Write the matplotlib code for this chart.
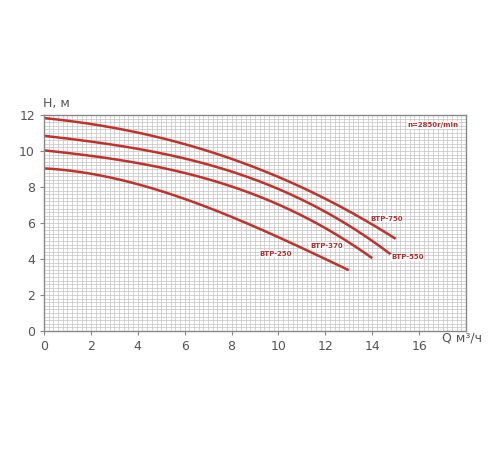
import matplotlib
matplotlib.use("Agg")
import matplotlib.pyplot as plt
import numpy as np
from matplotlib.ticker import MultipleLocator

q750 = [0, 2, 4, 6, 8, 10, 12, 14, 15]
h750 = [11.8, 11.55, 11.05, 10.35, 9.55, 8.5, 7.4, 6.0, 5.05]
q550 = [0, 2, 4, 6, 8, 10, 12, 14, 14.8]
h550 = [10.8, 10.6, 10.15, 9.55, 8.8, 7.85, 6.7, 5.1, 4.15]
q370 = [0, 2, 4, 6, 8, 10, 12, 14]
h370 = [10.0, 9.8, 9.35, 8.75, 7.95, 7.05, 5.8, 4.0]
q250 = [0, 2, 4, 6, 8, 10, 12, 13]
h250 = [9.0, 8.8, 8.2, 7.25, 6.3, 5.25, 4.1, 3.3]

names = ["BTP-750", "BTP-550", "BTP-370", "BTP-250"]
label_pos = [(14.6, 6.25), (15.5, 4.1), (12.05, 4.75), (9.9, 4.3)]
xticks = [0, 2, 4, 6, 8, 10, 12, 14, 16]
yticks = [0, 2, 4, 6, 8, 10, 12]

fig = plt.figure(figsize=(5, 4.5), dpi=100)
ax = fig.add_axes([0.088, 0.2644, 0.844, 0.48])
ax.set_xlim(0, 18)
ax.set_ylim(0, 12)
ax.xaxis.set_minor_locator(MultipleLocator(0.2))
ax.yaxis.set_minor_locator(MultipleLocator(0.2))
ax.set_xticks(xticks)
ax.set_yticks(yticks)
ax.grid(which="both", color="#c4c4c4", linewidth=0.5)
ax.set_axisbelow(True)
ax.tick_params(which="minor", length=0)
ax.tick_params(which="major", length=3, color="#888888", labelcolor="#555555", labelsize=9)
for s in ax.spines.values():
    s.set_color("#888888")
    s.set_linewidth(1.0)

red = "#c0332c"
for q, h in [(q750, h750), (q550, h550), (q370, h370), (q250, h250)]:
    qs = np.linspace(q[0], q[-1], 200)
    c = np.polyfit(q, h, 3)
    ax.plot(qs, np.polyval(c, qs), color=red, linewidth=1.8, solid_capstyle="butt")

for n, (x, y) in zip(names, label_pos):
    ax.text(x, y, n, color="#b03030", fontsize=5, fontweight="bold", ha="center", va="center",
            bbox=dict(facecolor="white", edgecolor="none", pad=0.5, alpha=0.8))
ax.text(16.6, 11.45, "n=2850r/min", color="#b03030", fontsize=5, fontweight="bold",
        ha="center", va="center", bbox=dict(facecolor="white", edgecolor="none", pad=0.5, alpha=0.8))

fig.text(0.086, 0.77, "H, м", color="#555555", fontsize=9, ha="left", va="center")
fig.text(0.885, 0.248, "Q м³/ч", color="#555555", fontsize=9, ha="left", va="center")

fig.savefig("out.png", dpi=100)
